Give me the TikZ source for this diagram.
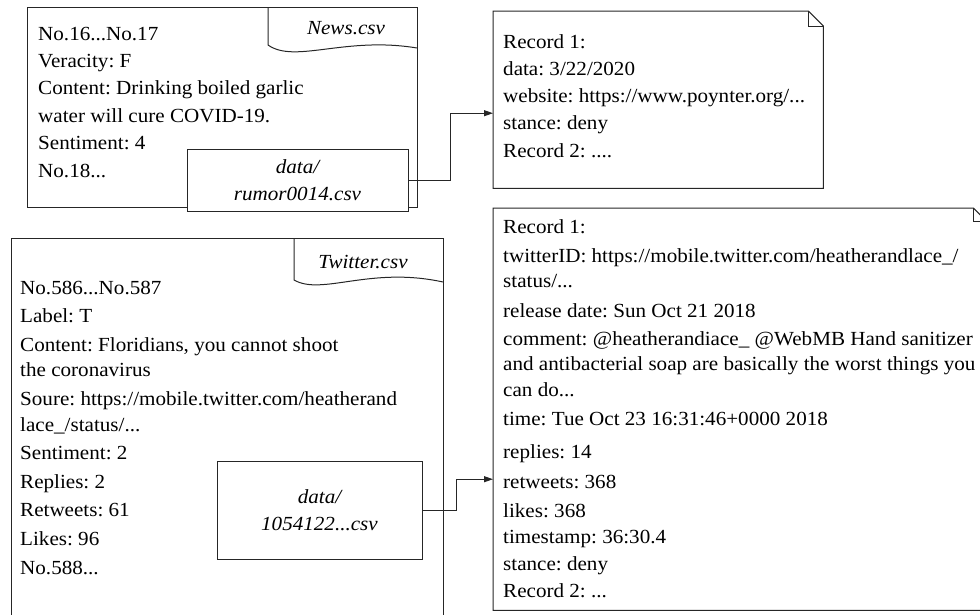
\documentclass[tikz,border=0pt]{standalone}
\usepackage{fontspec}
\setmainfont{Liberation Serif}[FakeStretch=1.055]
\frenchspacing
\usetikzlibrary{arrows.meta,calc,positioning}

\begin{document}
\begin{tikzpicture}[x=1pt,y=-1pt,
  frame/.style={draw=black!85,line width=1pt},
  rows/.style={anchor=base west,inner sep=0pt,align=left},
  tabname/.style={inner sep=0pt,font=\fontsize{20}{24}\selectfont\itshape},
  datafile/.style={frame,fill=white,inner sep=0pt,align=center,
    font=\fontsize{20}{26.5}\selectfont\itshape},
  record/.style={inner sep=0pt,anchor=north west},
  conn/.style={draw=black!85,line width=1pt,-{Triangle[length=9pt,width=6pt]}}]
  \useasboundingbox (0,0) rectangle (980,614);

  % news file with its tab (text placed by its last baseline)
  \draw[frame] (27,7) rectangle (417,207);
  \draw[frame] (268,7) -- (268,45) .. controls (295,64) and (345,36) .. (417,48);
  \node[tabname] (newstab) at (346,28) {News.csv};
  \node[rows,font=\fontsize{20}{27.4}\selectfont] (newstext) at (38,177)
    {No.16...No.17\\Veracity: F\\Content: Drinking boiled garlic\\
     water will cure COVID-19.\\Sentiment: 4\\No.18...};
  \node[datafile,minimum width=221pt,minimum height=62pt] (rumor) at (297.5,180)
    {data/\\rumor0014.csv};

  % twitter file with its tab
  \draw[frame] (11,238) rectangle (443,630);
  \draw[frame] (294,238) -- (294,280) .. controls (322,296) and (370,266) .. (443,282);
  \node[tabname] (twittab) at (363,262) {Twitter.csv};
  \node[rows,font=\fontsize{20}{28.6}\selectfont] (twittext) at (20,574)
    {No.586...No.587\\Label: T\\Content: Floridians, you cannot shoot\\[-3pt]
     the coronavirus\\Soure: https://mobile.twitter.com/heatherand\\[-3pt]
     lace\_/status/...\\Sentiment: 2\\Replies: 2\\Retweets: 61\\Likes: 96\\No.588...};
  \node[datafile,minimum width=205pt,minimum height=98pt] (tweetfile) at (319.5,510)
    {data/\\1054122...csv};

  % record sheets (folded corner)
  \node[record,minimum width=330pt,minimum height=177pt] (rec1) at (493,11) {};
  \draw[frame] (rec1.north west) -- ([xshift=-15pt]rec1.north east)
    -- ([yshift=-15pt]rec1.north east) -- (rec1.south east) -- (rec1.south west) -- cycle;
  \draw[frame] ([xshift=-15pt]rec1.north east) |- ([yshift=-15pt]rec1.north east);
  \node[rows,font=\fontsize{20}{27.25}\selectfont] (rec1text) at (503,157)
    {Record 1:\\data: 3/22/2020\\website: https://www.poynter.org/...\\stance: deny\\Record 2: ....};

  \node[record,minimum width=493pt,minimum height=402pt] (rec2) at (493,208) {};
  \draw[frame] (rec2.north west) -- ([xshift=-13pt]rec2.north east)
    -- ([yshift=-13pt]rec2.north east) -- (rec2.south east) -- (rec2.south west) -- cycle;
  \draw[frame] ([xshift=-13pt]rec2.north east) |- ([yshift=-13pt]rec2.north east);
  \node[rows,font=\fontsize{20}{28}\selectfont] (rec2text) at (503,597)
    {Record 1:\\[1pt]
     twitterID: https://mobile.twitter.com/heatherandlace\_/\\[-3pt]
     status/...\\[2pt]
     release date: Sun Oct 21 2018\\
     comment: @heatherandiace\_ @WebMB Hand sanitizer\\[-3pt]
     and antibacterial soap are basically the worst things you\\[-2pt]
     can do...\\[1pt]
     time: Tue Oct 23 16:31:46+0000 2018\\[5pt]
     replies: 14\\[2pt]
     retweets: 368\\[1pt]
     likes: 368\\[-2pt]
     timestamp: 36:30.4\\[-1pt]
     stance: deny\\[-1pt]
     Record 2: ...};

  % links from data files to records
  \coordinate (in1) at ([yshift=-13.5pt]rec1.west);
  \draw[conn] (rumor.east) -- ++(42,0) |- (in1);
  \coordinate (in2) at ([yshift=-70pt]rec2.west);
  \draw[conn] (tweetfile.east) -- ++(34,0) |- (in2);
\end{tikzpicture}
\end{document}
